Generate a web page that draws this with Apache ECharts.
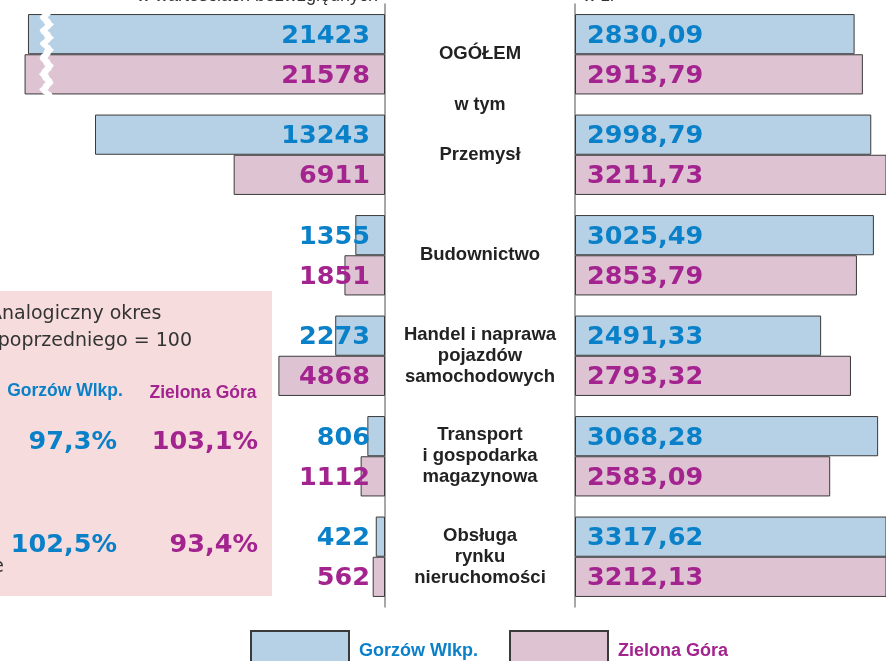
<!DOCTYPE html>
<html>
<head>
<meta charset="utf-8">
<script src="https://cdn.jsdelivr.net/npm/echarts@6/dist/echarts.min.js"></script>
<style>
  html, body { margin: 0; padding: 0; background: #fff; }
  #chart { width: 886px; height: 661px; }
</style>
</head>
<body>
<div id="chart"></div>
<script>
const categories = [
  'OGÓŁEM',
  'Przemysł',
  'Budownictwo',
  'Handel i naprawa\npojazdów\nsamochodowych',
  'Transport\ni gospodarka\nmagazynowa',
  'Obsługa\nrynku\nnieruchomości'
]
const seriesNames = ['Gorzów Wlkp.', 'Zielona Góra']
// przeciętne zatrudnienie (w wartościach bezwzględnych)
const employGorzow = [21423, 13243, 1355, 2273, 806, 422]
const employZielona = [21578, 6911, 1851, 4868, 1112, 562]
// przeciętne wynagrodzenie (w zł)
const wageGorzow = [2830.09, 2998.79, 3025.49, 2491.33, 3068.28, 3317.62]
const wageZielona = [2913.79, 3211.73, 2853.79, 2793.32, 2583.09, 3212.13]
// analogiczny okres roku poprzedniego = 100
const indexGorzow = ['97,3%', '102,5%']
const indexZielona = ['103,1%', '93,4%']

const BLUE_FILL = '#b6d1e6'
const PINK_FILL = '#dec3d3'
const BLUE_TEXT = '#0a80c8'
const PINK_TEXT = '#a3238f'
const EDGE = '#3a3a3a'
const AXIS_GRAY = '#8a8a8a'

const chart = echarts.init(document.getElementById('chart'))

const valueLabel = (color, pos, fmt) => ({
  show: true,
  position: pos,
  distance: pos === 'insideRight' ? 15 : 12,
  offset: [0, 2],
  color: color,
  fontFamily: 'DejaVu Sans',
  fontWeight: 'bold',
  fontSize: 25.5,
  formatter: fmt
})
const plain = p => String(p.value)
const money = p => p.value.toFixed(2).replace('.', ',')

const barBase = (name, color, xi) => ({
  name: name,
  type: 'bar',
  xAxisIndex: xi,
  yAxisIndex: xi,
  barGap: '0%',
  barCategoryGap: '20%',
  itemStyle: { color: color, borderColor: EDGE, borderWidth: 1 },
  emphasis: { disabled: true }
})

// tekst w różowej ramce
const boxText = (x, y, text, fill, font, align) => ({
  type: 'text', z: 201,
  style: { x: x, y: y, text: text, fill: fill, font: font, textAlign: align || 'left', textVerticalAlign: 'middle' }
})
const pctText = (x, y, text, fill) => boxText(x, y, text, fill, 'bold 25.5px "DejaVu Sans"', 'right')

const option = {
  animation: false,
  backgroundColor: '#fff',
  grid: [
    { left: 0, right: 501, top: 4, height: 603 },
    { left: 575, right: 0, top: 4, height: 603 }
  ],
  xAxis: [
    {
      gridIndex: 0, type: 'value', inverse: true, min: 0, max: 22700,
      axisLine: { show: false }, axisTick: { show: false },
      axisLabel: { show: false }, splitLine: { show: false },
      breaks: [{ start: 15300, end: 20770, gap: '2%' }],
      breakArea: {
        show: true,
        itemStyle: { color: '#fff', borderColor: '#fff', borderWidth: 1, opacity: 1 },
        zigzagAmplitude: 3,
        zigzagMinSpan: 5,
        zigzagMaxSpan: 9,
        zigzagZ: 100,
        expandOnClick: false
      }
    },
    {
      gridIndex: 1, type: 'value', min: 0, max: 3148,
      axisLine: { show: false }, axisTick: { show: false },
      axisLabel: { show: false }, splitLine: { show: false }
    }
  ],
  yAxis: [
    {
      gridIndex: 0, type: 'category', inverse: true, position: 'right',
      data: categories,
      axisLine: { show: true, lineStyle: { color: AXIS_GRAY, width: 1.5 } },
      axisTick: { show: false },
      axisLabel: {
        margin: 95, align: 'center', color: '#222',
        fontFamily: 'Liberation Sans', fontWeight: 'bold', fontSize: 18.5, lineHeight: 21
      }
    },
    {
      gridIndex: 1, type: 'category', inverse: true,
      data: categories,
      axisLine: { show: true, lineStyle: { color: AXIS_GRAY, width: 1.5 } },
      axisTick: { show: false },
      axisLabel: { show: false }
    }
  ],
  legend: {
    data: seriesNames.map((n, i) => ({
      name: n,
      textStyle: { color: i === 0 ? BLUE_TEXT : PINK_TEXT }
    })),
    left: 250, top: 630, padding: 0,
    icon: 'rect',
    itemWidth: 98, itemHeight: 40, itemGap: 31,
    selectedMode: false,
    textStyle: {
      fontFamily: 'Liberation Sans', fontWeight: 'bold', fontSize: 18,
      padding: [0, 0, 0, 5]
    }
  },
  series: [
    Object.assign(barBase(seriesNames[0], BLUE_FILL, 0), {
      data: employGorzow, label: valueLabel(BLUE_TEXT, 'insideRight', plain)
    }),
    Object.assign(barBase(seriesNames[1], PINK_FILL, 0), {
      data: employZielona, label: valueLabel(PINK_TEXT, 'insideRight', plain)
    }),
    Object.assign(barBase(seriesNames[0], BLUE_FILL, 1), {
      data: wageGorzow, label: valueLabel(BLUE_TEXT, 'insideLeft', money)
    }),
    Object.assign(barBase(seriesNames[1], PINK_FILL, 1), {
      data: wageZielona, label: valueLabel(PINK_TEXT, 'insideLeft', money)
    })
  ],
  graphic: [
    { type: 'rect', z: 200, shape: { x: -5, y: 291, width: 277, height: 305 }, style: { fill: '#f6dcdd' } },
    boxText(-11, 314, 'Analogiczny okres', '#333', '19px "DejaVu Sans"'),
    boxText(192, 341, 'roku poprzedniego = 100', '#333', '19px "DejaVu Sans"', 'right'),
    boxText(65, 391, seriesNames[0], BLUE_TEXT, 'bold 17.5px "Liberation Sans"', 'center'),
    boxText(203, 393, seriesNames[1], PINK_TEXT, 'bold 17.5px "Liberation Sans"', 'center'),
    pctText(117, 442, indexGorzow[0], BLUE_TEXT),
    pctText(258, 442, indexZielona[0], PINK_TEXT),
    pctText(117, 545, indexGorzow[1], BLUE_TEXT),
    pctText(258, 545, indexZielona[1], PINK_TEXT),
    boxText(4, 567, 'wynagrodzenie', '#333', '19px "DejaVu Sans"', 'right'),
    { type: 'text', style: { x: 480, y: 105, text: 'w tym', fill: '#222', font: 'bold 18px "Liberation Sans"', textAlign: 'center', textVerticalAlign: 'middle' } },
    { type: 'text', style: { x: 378, y: -4, text: 'w wartościach bezwzględnych', fill: '#333', font: '18px "Liberation Sans"', textAlign: 'right', textVerticalAlign: 'middle' } },
    { type: 'text', style: { x: 583, y: -4, text: 'w zł', fill: '#333', font: '18px "Liberation Sans"', textAlign: 'left', textVerticalAlign: 'middle' } }
  ]
}

chart.setOption(option)
</script>
</body>
</html>
